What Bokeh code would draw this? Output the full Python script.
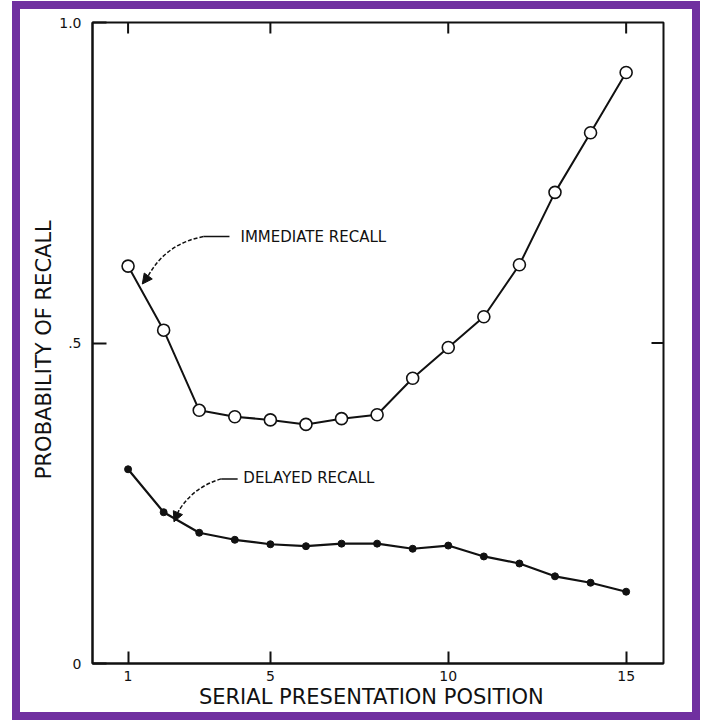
from bokeh.plotting import figure
from bokeh.models import Range1d, LinearAxis, FixedTicker, Arrow, NormalHead
from bokeh.layouts import column
from bokeh.core.properties import value
from bokeh.embed import file_html
from bokeh.resources import INLINE

# ---- data ----
positions = list(range(1, 16))
immediate = [0.620, 0.520, 0.395, 0.385, 0.380, 0.373, 0.382, 0.388,
             0.445, 0.493, 0.541, 0.622, 0.735, 0.828, 0.922]
delayed = [0.303, 0.236, 0.204, 0.193, 0.186, 0.183, 0.187, 0.187,
           0.179, 0.184, 0.167, 0.156, 0.136, 0.126, 0.112]
x_ticks = [1, 5, 10, 15]
y_ticks = [0, 0.5, 1]
y_tick_labels = {0: "0", 0.5: ".5", 1: "1.0"}

INK = "#111111"
FONT = "DejaVu Sans"
X0, X1 = 0.0, 16.05
FRAME_W, FRAME_H = 571, 641

p = figure(width=672, height=703,
           x_range=Range1d(X0, X1), y_range=Range1d(0, 1),
           output_backend="svg", toolbar_location=None,
           x_axis_location=None, y_axis_location=None,
           min_border_left=72, min_border_right=29,
           min_border_top=13, min_border_bottom=49,
           background_fill_color="white", border_fill_color="white")
p.xgrid.visible = False
p.ygrid.visible = False
p.outline_line_color = INK
p.outline_line_width = 2


def style_axis(ax, tick_in):
    ax.axis_line_color = INK
    ax.axis_line_width = 2
    ax.major_tick_line_color = INK
    ax.major_tick_line_width = 2
    ax.major_tick_in = tick_in
    ax.major_tick_out = 0
    ax.minor_tick_line_color = None
    ax.major_label_text_font = FONT
    ax.major_label_text_font_size = "14px"
    ax.major_label_text_color = INK


bottom = LinearAxis(ticker=FixedTicker(ticks=x_ticks),
                    axis_label="SERIAL  PRESENTATION  POSITION")
style_axis(bottom, 12)
bottom.major_label_standoff = 7
bottom.axis_label_text_font = FONT
bottom.axis_label_text_font_size = "21px"
bottom.axis_label_text_font_style = "normal"
bottom.axis_label_text_color = INK
bottom.axis_label_standoff = 1
p.add_layout(bottom, "below")

left = LinearAxis(ticker=FixedTicker(ticks=y_ticks),
                  axis_label="PROBABILITY  OF  RECALL")
style_axis(left, 14)
left.major_label_overrides = y_tick_labels
left.major_label_standoff = 11
left.axis_label_text_font = FONT
left.axis_label_text_font_size = "21px"
left.axis_label_text_font_style = "normal"
left.axis_label_text_color = INK
left.axis_label_standoff = 0
p.add_layout(left, "left")

# inward ticks on the top and right edges of the frame
top_len = 11 / FRAME_H
p.segment(x0=x_ticks, y0=[1] * len(x_ticks),
          x1=x_ticks, y1=[1 - top_len] * len(x_ticks),
          line_color=INK, line_width=2)
right_len = 12 * (X1 - X0) / FRAME_W
p.segment(x0=[X1], y0=[0.5], x1=[X1 - right_len], y1=[0.5],
          line_color=INK, line_width=2)

# ---- series ----
p.line(positions, immediate, line_color=INK, line_width=2)
p.scatter(positions, immediate, marker="circle", size=12,
          fill_color="white", line_color=INK, line_width=1.6)
p.line(positions, delayed, line_color=INK, line_width=2.2)
p.scatter(positions, delayed, marker="circle", size=7,
          fill_color=INK, line_color=INK)

# ---- annotations ----
p.text(x=[4.16], y=[0.665], text=["IMMEDIATE  RECALL"],
       text_font=value(FONT), text_font_size="15px", text_color=INK,
       text_baseline="middle", text_align="left")
p.segment(x0=[3.12], y0=[0.666], x1=[3.85], y1=[0.666],
          line_color=INK, line_width=1.5)
p.quadratic(x0=[3.12], y0=[0.666], x1=[1.55], y1=[0.603],
            cx=[2.05], cy=[0.655], line_color=INK, line_width=1.5,
            line_dash="4 2")
p.add_layout(Arrow(x_start=1.56, y_start=0.604, x_end=1.40, y_end=0.592,
                   line_color=INK, line_width=1.5,
                   end=NormalHead(size=10, fill_color=INK, line_color=INK)))

p.text(x=[4.24], y=[0.289], text=["DELAYED  RECALL"],
       text_font=value(FONT), text_font_size="15px", text_color=INK,
       text_baseline="middle", text_align="left")
p.segment(x0=[3.62], y0=[0.288], x1=[4.08], y1=[0.288],
          line_color=INK, line_width=1.5)
p.quadratic(x0=[3.62], y0=[0.288], x1=[2.42], y1=[0.238],
            cx=[2.85], cy=[0.276], line_color=INK, line_width=1.5,
            line_dash="4 2")
p.add_layout(Arrow(x_start=2.43, y_start=0.239, x_end=2.29, y_end=0.221,
                   line_color=INK, line_width=1.5,
                   end=NormalHead(size=10, fill_color=INK, line_color=INK)))

layout = column(p, styles={"border": "8px solid #7030A0",
                           "background-color": "white",
                           "margin-left": "12px",
                           "margin-top": "1px"})

open("out.html", "w").write(file_html(layout, INLINE))
